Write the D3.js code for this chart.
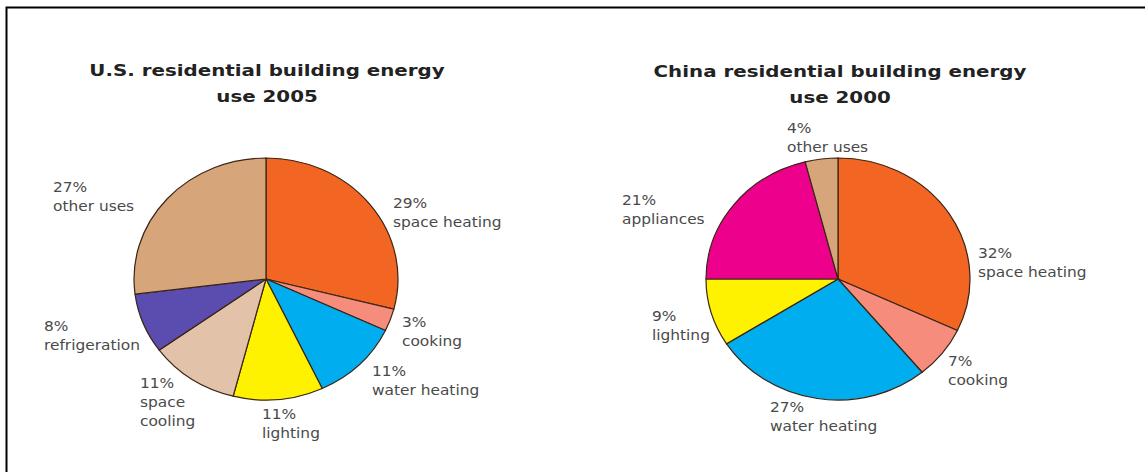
<!DOCTYPE html>
<html>
<head>
<meta charset="utf-8">
<script src="https://cdn.jsdelivr.net/npm/d3@7"></script>
<style>
  body { margin: 0; background: #fff; }
  svg { display: block; }
  .title { font-family: "DejaVu Sans", sans-serif; font-weight: bold; font-size: 16px; fill: #222; }
  .label { font-family: "DejaVu Sans", sans-serif; font-size: 14px; fill: #4a4a4a; }
</style>
</head>
<body>
<div id="chart"></div>
<script>
// data (percent of residential energy use)
var usCategories = ["space heating", "cooking", "water heating", "lighting", "space cooling", "refrigeration", "other uses"]
var usValues = [29, 3, 11, 11, 11, 8, 27]
var usTitle = ["U.S. residential building energy", "use 2005"]

var chinaCategories = ["space heating", "cooking", "water heating", "lighting", "appliances", "other uses"]
var chinaValues = [32, 7, 27, 9, 21, 4]
var chinaTitle = ["China residential building energy", "use 2000"]

var allCategories = ["space heating", "cooking", "water heating", "lighting", "space cooling", "refrigeration", "other uses", "appliances"]

var color = d3.scaleOrdinal()
    .domain(allCategories)
    .range(["#f26522", "#f58c7c", "#00aeef", "#fff200", "#e3c2aa", "#5b4cb0", "#d7a57a", "#ec008c"])

var width = 1145, height = 472
var ry = 121, rx = 132   // the pies in the picture are a bit wider than tall

var svg = d3.select("#chart").append("svg")
    .attr("width", width)
    .attr("height", height)

// frame (only left and top edges show in the picture)
svg.append("rect")
    .attr("x", 6.5).attr("y", 7.5)
    .attr("width", 1300).attr("height", 600)
    .attr("fill", "none")
    .attr("stroke", "#000")
    .attr("stroke-width", 2)

// label anchors: first-line baseline, left aligned
var usLabelAt = [[393, 208], [402, 327], [372, 376], [262, 419], [140, 388], [44, 331], [53, 192]]
var chinaLabelAt = [[978, 258], [948, 366], [770, 412], [652, 321], [622, 205], [787, 133]]

function drawPie(opts){
  var g = svg.append("g")

  g.selectAll(".title")
      .data(opts.title)
    .enter().append("text")
      .attr("class", "title")
      .attr("text-anchor", "middle")
      .attr("transform", function(d, i){ return "translate(" + opts.titleX + "," + (opts.titleY + i * 26) + ") scale(1.24,1)" })
      .text(function(d){ return d })

  var pie = d3.pie().sort(null).value(function(d){ return d.value })
  var arc = d3.arc().innerRadius(0).outerRadius(ry)

  var rows = opts.categories.map(function(c, i){ return { name: c, value: opts.values[i] } })

  var pieG = g.append("g")
      .attr("transform", "translate(" + opts.cx + "," + opts.cy + ") scale(" + (rx / ry) + ",1)")

  pieG.selectAll("path")
      .data(pie(rows))
    .enter().append("path")
      .attr("d", arc)
      .attr("fill", function(d){ return color(d.data.name) })
      .attr("stroke", "#3b2415")
      .attr("stroke-width", 1.2)
      .attr("vector-effect", "non-scaling-stroke")

  var labels = g.selectAll(".label")
      .data(rows)
    .enter().append("text")
      .attr("class", "label")
      .attr("transform", function(d, i){ return "translate(" + opts.labelAt[i][0] + "," + opts.labelAt[i][1] + ") scale(1.1,1)" })

  labels.selectAll("tspan")
      .data(function(d){
        var lines = opts.wrap.indexOf(d.name) >= 0 ? d.name.split(" ") : [d.name]
        return [d.value + "%"].concat(lines)
      })
    .enter().append("tspan")
      .attr("x", 0)
      .attr("dy", function(d, i){ return i == 0 ? 0 : 19 })
      .text(function(d){ return d })
}

drawPie({ categories: usCategories, values: usValues, title: usTitle,
  cx: 266, cy: 279, titleX: 267, titleY: 76, labelAt: usLabelAt, wrap: ["space cooling"] })

drawPie({ categories: chinaCategories, values: chinaValues, title: chinaTitle,
  cx: 838, cy: 279, titleX: 840, titleY: 77, labelAt: chinaLabelAt, wrap: [] })
</script>
</body>
</html>
